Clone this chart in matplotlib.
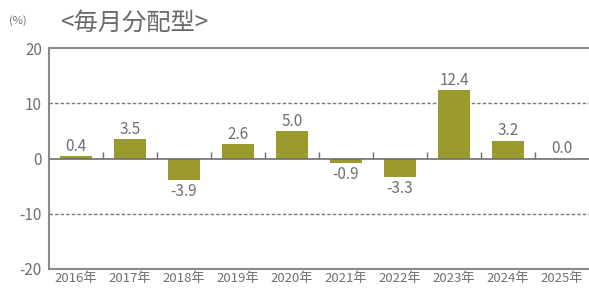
import matplotlib
matplotlib.use("Agg")
import matplotlib.pyplot as plt

plt.rcParams['font.family'] = ['Noto Sans CJK JP', 'DejaVu Sans']

years = ["2016年", "2017年", "2018年", "2019年", "2020年",
         "2021年", "2022年", "2023年", "2024年", "2025年"]
returns = [0.4, 3.5, -3.9, 2.6, 5.0, -0.9, -3.3, 12.4, 3.2, 0.0]
labels = ["0.4", "3.5", "-3.9", "2.6", "5.0", "-0.9", "-3.3", "12.4", "3.2", "0.0"]

bar_color = "#9b9a2e"
text_color = "#707070"
axis_color = "#8a8a8a"

fig = plt.figure(figsize=(5.89, 2.93), dpi=100, facecolor="white")
ax = fig.add_axes([0.083, 0.082, 0.917, 0.754])

x = list(range(len(years)))
ax.bar(x, returns, width=0.6, color=bar_color, zorder=3)

ax.set_xlim(-0.5, len(years) - 0.5)
ax.set_ylim(-20, 20)
ax.set_yticks([20, 10, 0, -10, -20])
ax.set_yticklabels(["20", "10", "0", "-10", "-20"])
ax.set_xticks(x)
ax.set_xticklabels(years)
ax.tick_params(axis="y", length=0, labelsize=11, colors=text_color, pad=5)
ax.tick_params(axis="x", length=0, labelsize=9.5, colors=text_color, pad=2)

# gridlines
for v in [10, -10]:
    ax.axhline(v, color="#7a7a7a", lw=1.0, ls=(0, (2.5, 1.5)), zorder=1)
ax.axhline(0, color="#6e6e6e", lw=1.2, zorder=4)

# small ticks between categories on the zero line
ax.plot([i + 0.5 for i in x[:-1]], [0.7] * (len(x) - 1), ls="none",
        marker="|", markersize=4, color="#6e6e6e", zorder=4)

for s in ["left", "top", "bottom"]:
    ax.spines[s].set_color(axis_color)
    ax.spines[s].set_linewidth(1.5)
ax.spines["right"].set_visible(False)

# value labels
for i, (v, t) in enumerate(zip(returns, labels)):
    if v >= 0:
        ax.annotate(t, (i, max(v, 0)), xytext=(0, 1), textcoords="offset points",
                    ha="center", va="bottom", fontsize=11, color=text_color, zorder=5)
    else:
        ax.annotate(t, (i, v), xytext=(0, -2), textcoords="offset points",
                    ha="center", va="top", fontsize=11, color=text_color, zorder=5)

fig.text(0.102, 0.922, "<毎月分配型>", fontsize=17.5, color="#6a6a6a",
         ha="left", va="center")
fig.text(0.015, 0.93, "(%)", fontsize=8, color=text_color, ha="left", va="center")

fig.savefig("out.png", dpi=100)
